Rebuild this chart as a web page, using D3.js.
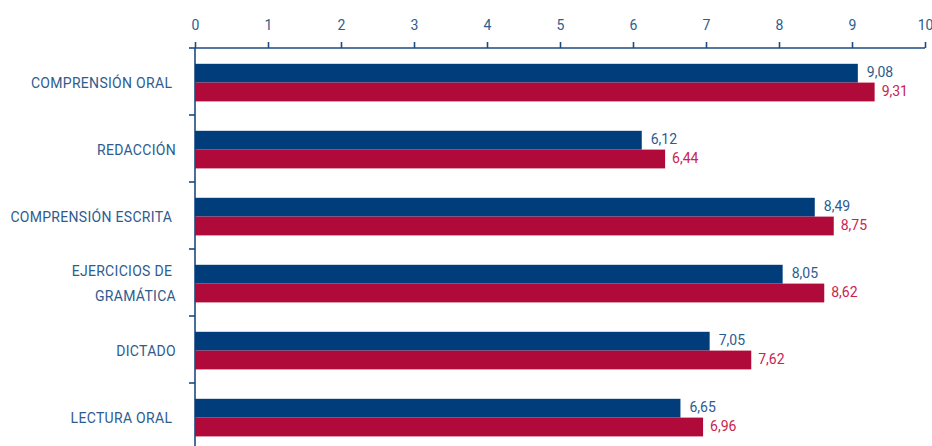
<!DOCTYPE html>
<html>
<head>
<meta charset="utf-8">
<script src="https://cdn.jsdelivr.net/npm/d3@7"></script>
<style>
  body { margin: 0; background: #fff; }
  text { font-family: Roboto, "DejaVu Sans Condensed", sans-serif; }
</style>
</head>
<body>
<div id="chart"></div>
<script>
// categories, top to bottom (trailing spaces kept as in the original)
var categories = ["COMPRENSIÓN ORAL ", "REDACCIÓN", "COMPRENSIÓN ESCRITA ", "EJERCICIOS DE |GRAMÁTICA", "DICTADO", "LECTURA ORAL "];
var seriesA = [9.08, 6.12, 8.49, 8.05, 7.05, 6.65];
var seriesB = [9.31, 6.44, 8.75, 8.62, 7.62, 6.96];
var xTicks = [0, 1, 2, 3, 4, 5, 6, 7, 8, 9, 10];

var W = 932, H = 446;
var margin = {top: 48, left: 195};
var bandStep = 67;
var barH = 18.8, barOff = 15.8;

var colA = "#003d7a", colB = "#b00a3a";
var labA = "#2d5b90", labB = "#c8244f";
var axisCol = "#1d4a80", textCol = "#2e5c8f";

var svg = d3.select("#chart").append("svg")
    .attr("width", W)
    .attr("height", H);

var x = d3.scaleLinear().domain([0, 10]).range([margin.left, 925]);
var y = d3.scaleBand()
    .domain(d3.range(categories.length))
    .range([margin.top, margin.top + bandStep * categories.length]);

// top axis
var xAxis = svg.append("g")
    .attr("transform", "translate(0," + margin.top + ")")
    .call(d3.axisTop(x).tickValues(xTicks).tickSize(6).tickPadding(12).tickFormat(d3.format("d")));
xAxis.select(".domain").attr("stroke", axisCol).attr("stroke-width", 1.6).attr("d", "M" + x(0) + ",0H" + x(10));
xAxis.selectAll(".tick line").attr("stroke", axisCol).attr("stroke-width", 1.6);
xAxis.selectAll(".tick text").attr("fill", textCol).style("font-size", "14px");

// left axis
var yAxis = svg.append("g").attr("transform", "translate(" + margin.left + ",0)");
yAxis.append("line")
    .attr("x1", 0).attr("x2", 0)
    .attr("y1", margin.top).attr("y2", H)
    .attr("stroke", axisCol).attr("stroke-width", 1.6);
yAxis.selectAll(".ytick")
    .data(d3.range(categories.length + 1))
    .enter().append("line")
    .attr("x1", -6).attr("x2", 0)
    .attr("y1", function(d) { return margin.top + d * bandStep; })
    .attr("y2", function(d) { return margin.top + d * bandStep; })
    .attr("stroke", axisCol).attr("stroke-width", 1.6);

// bars
var groups = svg.selectAll(".cat")
    .data(categories)
    .enter().append("g")
    .attr("transform", function(d, i) { return "translate(0," + y(i) + ")"; });

groups.append("rect")
    .attr("x", x(0))
    .attr("y", barOff)
    .attr("width", function(d, i) { return x(seriesA[i]) - x(0); })
    .attr("height", barH)
    .attr("fill", colA);

groups.append("rect")
    .attr("x", x(0))
    .attr("y", barOff + barH)
    .attr("width", function(d, i) { return x(seriesB[i]) - x(0); })
    .attr("height", barH)
    .attr("fill", colB);

var fmt = function(v) { return d3.format(".2f")(v).replace(".", ","); };

groups.append("text")
    .attr("x", function(d, i) { return x(seriesA[i]) + 9; })
    .attr("y", barOff + barH / 2 - 1.5)
    .attr("dy", "0.35em")
    .attr("fill", labA)
    .style("font-size", "14px")
    .text(function(d, i) { return fmt(seriesA[i]); });

groups.append("text")
    .attr("x", function(d, i) { return x(seriesB[i]) + 7; })
    .attr("y", barOff + barH * 1.5 - 1)
    .attr("dy", "0.35em")
    .attr("fill", labB)
    .style("font-size", "14px")
    .text(function(d, i) { return fmt(seriesB[i]); });

// category labels
groups.each(function(d) {
    var lines = d.split("|");
    var g = d3.select(this);
    lines.forEach(function(line, k) {
        g.append("text")
            .attr("x", 176)
            .attr("y", barOff + barH + (k - (lines.length - 1) / 2) * 25)
            .attr("dy", "0.35em")
            .attr("text-anchor", "end")
            .attr("fill", textCol)
            .style("font-size", "14px")
            .style("letter-spacing", "0.3px")
            .style("white-space", "pre")
            .text(line);
    });
});
</script>
</body>
</html>
